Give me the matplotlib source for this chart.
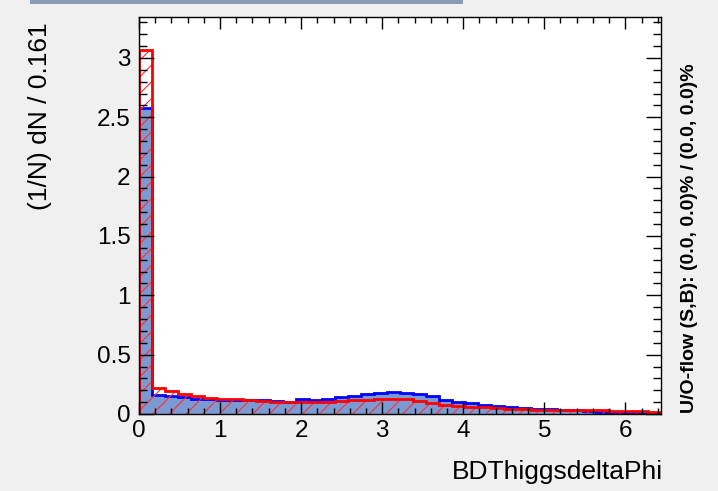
import numpy as np
import matplotlib.pyplot as plt
from matplotlib.patches import Rectangle
from matplotlib.ticker import MultipleLocator

plt.rcParams['font.family'] = ['Liberation Sans', 'DejaVu Sans']
plt.rcParams['hatch.linewidth'] = 0.8

# 40 bins de largura 0.161 (de 0 a 6.44)
largura_bin = 0.161
n_bins = 40
bordas = np.arange(n_bins + 1) * largura_bin

# sinal (azul, preenchido)
sinal = [2.58, 0.16, 0.15, 0.14, 0.13, 0.125, 0.12, 0.115, 0.12, 0.12,
         0.11, 0.105, 0.125, 0.12, 0.13, 0.14, 0.15, 0.17, 0.18, 0.185,
         0.18, 0.165, 0.15, 0.12, 0.10, 0.09, 0.075, 0.065, 0.055, 0.05,
         0.045, 0.04, 0.035, 0.03, 0.025, 0.02, 0.02, 0.02, 0.015, 0.01]

# fundo (vermelho, hachurado)
fundo = [3.07, 0.22, 0.19, 0.17, 0.15, 0.135, 0.13, 0.125, 0.115, 0.11,
         0.105, 0.10, 0.10, 0.10, 0.105, 0.11, 0.115, 0.12, 0.125, 0.13,
         0.125, 0.11, 0.09, 0.08, 0.07, 0.06, 0.055, 0.05, 0.045, 0.04,
         0.035, 0.035, 0.03, 0.035, 0.03, 0.03, 0.025, 0.025, 0.025, 0.02]

fig = plt.figure(figsize=(7.18, 4.91), dpi=100)
fig.patch.set_facecolor('#f0f0f0')

# faixa da janela no topo
fig.patches.append(Rectangle((30 / 718, 1 - 4 / 491), 433 / 718, 4 / 491,
                             transform=fig.transFigure, facecolor='#8a9bb5',
                             edgecolor='none'))

ax = fig.add_axes([139 / 718, 77 / 491, 522 / 718, 397 / 491])
ax.set_facecolor('white')

ax.stairs(sinal, bordas, fill=True, facecolor='#7d99d1', edgecolor='none')
ax.stairs(sinal, bordas, baseline=0, color='#0000ff', linewidth=2)
ax.stairs(fundo, bordas, fill=True, facecolor='none', edgecolor='#ff3030',
          hatch='//', linewidth=0)
ax.stairs(fundo, bordas, baseline=0, color='#ff0000', linewidth=2)

ax.set_xlim(0, bordas[-1])
ax.set_ylim(0, 3.345)

ax.xaxis.set_major_locator(MultipleLocator(1))
ax.xaxis.set_minor_locator(MultipleLocator(0.2))
ax.yaxis.set_major_locator(MultipleLocator(0.5))
ax.yaxis.set_minor_locator(MultipleLocator(0.1))
ax.set_yticks([0, 0.5, 1, 1.5, 2, 2.5, 3])
ax.set_yticklabels(['0', '0.5', '1', '1.5', '2', '2.5', '3'])

ax.tick_params(axis='both', which='both', direction='in', top=True, right=True,
               labelsize=17.5, width=1)
ax.tick_params(axis='x', which='major', length=8.5, pad=4)
ax.tick_params(axis='x', which='minor', length=4.3)
ax.tick_params(axis='y', which='major', length=11, pad=6)
ax.tick_params(axis='y', which='minor', length=5.5)
for s in ax.spines.values():
    s.set_linewidth(1)

fig.text(40 / 718, 1 - 22 / 491, '(1/N) dN / 0.161', rotation=90,
         ha='center', va='top', fontsize=19)
fig.text(663 / 718, 1 - 472 / 491, 'BDThiggsdeltaPhi', ha='right',
         va='center', fontsize=19)
fig.text(690 / 718, 1 - 413 / 491, 'U/O-flow (S,B): (0.0, 0.0)% / (0.0, 0.0)%',
         rotation=90, ha='center', va='bottom', fontsize=14, fontweight='bold')

fig.savefig('out.png', dpi=100, facecolor=fig.get_facecolor())
